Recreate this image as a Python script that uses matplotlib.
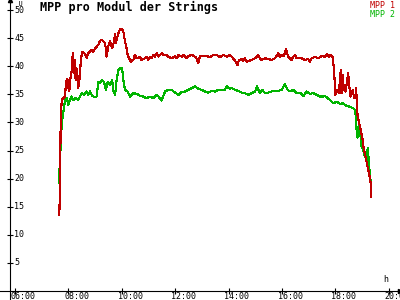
import matplotlib
matplotlib.use("Agg")
import matplotlib.pyplot as plt

plt.rcParams['font.family'] = ['DejaVu Sans Mono']

# MPP 1 (rot): Uhrzeit in Stunden, Spannung in V
mpp1_h = [7.66, 7.69, 7.71, 7.75, 7.81, 7.87, 7.90, 7.94, 7.97, 8.00, 8.03, 8.09, 8.12,
          8.16, 8.18, 8.21, 8.25, 8.27, 8.31, 8.35, 8.37, 8.41, 8.46, 8.50, 8.54, 8.60,
          8.68, 8.74, 8.81, 8.87, 8.93, 9.00, 9.06, 9.12, 9.18, 9.25, 9.31, 9.37, 9.41,
          9.43, 9.49, 9.56, 9.60, 9.64, 9.71, 9.75, 9.78, 9.82, 9.87, 9.93, 10.00, 10.06,
          10.12, 10.18, 10.22, 10.27, 10.34,
          10.37, 10.43, 10.49, 10.56, 10.68, 10.74, 10.87, 10.93, 10.99, 11.06, 11.12,
          11.18, 11.24, 11.31, 11.37, 11.43, 11.49, 11.55, 11.68, 11.74, 11.87, 11.99,
          12.06, 12.12, 12.24, 12.30, 12.43, 12.49, 12.62, 12.74, 12.80, 12.86, 12.93,
          13.18, 13.30, 13.43, 13.55, 13.68, 13.80, 13.93, 14.05,
          14.12, 14.24, 14.33, 14.39, 14.49, 14.55, 14.61, 14.68, 14.74, 14.86, 14.99,
          15.11, 15.17, 15.24, 15.36, 15.49, 15.61, 15.74, 15.86, 15.92, 15.99, 16.05,
          16.11, 16.15, 16.19, 16.24, 16.30, 16.36, 16.42, 16.49, 16.55, 16.74, 16.86,
          16.98, 17.05, 17.11, 17.24, 17.36, 17.49, 17.61, 17.68, 17.76, 17.83, 17.91,
          17.98, 18.00, 18.07, 18.13, 18.20, 18.23, 18.27, 18.32, 18.38, 18.48, 18.52,
          18.57, 18.65, 18.70, 18.76, 18.78, 18.80, 18.83, 18.88, 18.95, 19.01, 19.07,
          19.13, 19.19, 19.26, 19.32, 19.34]
mpp1_v = [13.5, 19.8, 30.4, 34.0, 34.3, 34.6, 36.4, 37.8, 36.1, 37.5, 35.5, 38.4, 39.0,
          42.0, 42.3, 38.7, 41.1, 37.5, 39.6, 37.8, 36.1, 37.5, 40.5, 42.3, 42.6, 42.3,
          41.5, 42.3, 42.6, 42.9, 42.6, 43.2, 43.5, 43.8, 44.5, 44.7, 44.4, 44.1, 42.9,
          41.7, 43.5, 44.4, 43.8, 43.2, 44.4, 45.8, 44.1, 45.0, 45.8, 46.6, 46.7, 46.1,
          44.4, 43.2, 42.0, 41.4, 40.8,
          41.0, 41.1, 42.0, 41.4, 41.7, 41.1, 41.4, 41.7, 41.1, 41.7, 41.4,
          42.0, 41.7, 42.3, 41.7, 42.0, 42.3, 42.0, 42.0, 41.7, 41.4, 41.8,
          41.4, 42.0, 41.7, 42.0, 41.4, 41.8, 42.0, 41.7, 41.4, 40.5, 41.8,
          41.8, 41.6, 42.0, 42.0, 41.6, 42.0, 41.7, 42.0,
          41.7, 41.0, 40.2, 41.1, 41.3, 41.0, 41.4, 40.8, 40.9, 41.1, 41.4,
          42.0, 41.4, 41.1, 41.4, 41.3, 41.1, 41.4, 42.3, 41.7, 42.0, 41.8,
          42.3, 43.0, 42.3, 41.7, 41.4, 41.1, 41.7, 42.0, 41.4, 41.4, 41.1,
          41.3, 40.8, 41.4, 41.7, 41.4, 41.8, 41.7, 42.2, 41.7, 42.0, 41.5,
          37.0, 34.9, 35.8, 35.2, 39.3, 35.2, 38.4, 35.8, 35.5, 38.8, 36.4,
          34.6, 35.8, 34.3, 34.6, 36.2, 33.4, 31.3, 30.1, 28.6, 27.2, 25.1,
          23.9, 22.4, 21.0, 19.2, 16.8]

# MPP 2 (gruen)
mpp2_h = [7.65, 7.66, 7.71, 7.75, 7.79, 7.84, 7.87, 7.94, 8.00, 8.06, 8.12, 8.18, 8.27,
          8.37, 8.43, 8.50, 8.58, 8.68, 8.74, 8.81, 8.90, 9.00, 9.06, 9.12, 9.18, 9.25,
          9.33, 9.41, 9.47, 9.56, 9.64, 9.69, 9.75, 9.79, 9.87, 9.93, 10.01, 10.07,
          10.12, 10.22,
          10.31, 10.43, 10.56, 10.68, 10.81, 10.93, 11.06, 11.18, 11.31, 11.43, 11.49,
          11.55, 11.62, 11.74, 11.87, 11.99, 12.12, 12.24, 12.37, 12.49, 12.62, 12.74,
          12.86, 12.99, 13.11, 13.24, 13.36, 13.49, 13.61, 13.74, 13.86, 13.93, 14.05,
          14.12, 14.24, 14.37, 14.49, 14.61, 14.74, 14.86, 14.99, 15.07, 15.17, 15.26,
          15.36, 15.49, 15.67, 15.86, 15.99, 16.11, 16.21, 16.30, 16.42, 16.55, 16.67,
          16.80, 16.92, 17.05, 17.18, 17.30, 17.43, 17.55, 17.61, 17.79, 17.92, 18.04,
          18.17, 18.29, 18.42, 18.55, 18.67, 18.73, 18.77, 18.80, 18.83, 18.89, 18.93,
          18.98, 19.04, 19.11, 19.17, 19.21, 19.26, 19.29, 19.33]
mpp2_v = [19.2, 21.0, 25.7, 29.9, 31.0, 32.8, 34.0, 34.3, 33.1, 34.0, 34.6, 34.0, 34.3,
          34.0, 34.6, 35.2, 34.9, 35.5, 34.9, 35.5, 34.7, 34.5, 34.6, 37.2, 37.0, 37.5,
          37.2, 35.8, 37.2, 36.7, 37.5, 35.5, 34.9, 37.0, 39.3, 39.6, 39.6, 37.2,
          35.8, 35.5,
          34.6, 35.2, 35.1, 34.7, 34.6, 34.3, 34.6, 34.3, 34.9, 34.3, 33.9,
          34.6, 35.5, 35.8, 35.8, 35.3, 34.9, 35.4, 35.5, 35.8, 36.1, 36.4,
          36.0, 35.8, 35.5, 35.3, 35.6, 35.5, 35.8, 35.8, 35.8, 36.4, 36.0,
          36.1, 35.8, 35.6, 35.3, 35.2, 34.9, 35.2, 35.5, 36.4, 35.2, 35.8,
          35.2, 35.3, 35.6, 35.6, 35.8, 36.8, 35.8, 35.5, 35.8, 35.2, 35.3,
          34.7, 35.5, 35.1, 35.2, 34.9, 34.6, 34.6, 34.7, 34.0, 33.4, 33.7,
          33.3, 33.4, 32.9, 32.8, 32.5, 32.2, 31.0, 28.1, 27.3, 29.5, 28.1,
          25.7, 25.1, 23.9, 23.3, 25.4, 22.7, 20.6, 19.2]

y_ticks = [5, 10, 15, 20, 25, 30, 35, 40, 45, 50]
x_ticks = [6, 8, 10, 12, 14, 16, 18, 20]
x_labels = ['06:00', '08:00', '10:00', '12:00', '14:00', '16:00', '18:00', '20:00']

fig = plt.figure(figsize=(4, 3), dpi=100)
ax = fig.add_axes([0, 0, 1, 1])
ax.set_xlim(5.438, 20.42)
ax.set_ylim(-1.6, 51.78)
x0 = 5.813  # Lage der y-Achse

ax.plot(mpp2_h, mpp2_v, color='#00b400', linewidth=0.8, antialiased=False)
ax.plot(mpp1_h, mpp1_v, color='#c00000', linewidth=0.8, antialiased=False)

# Achsen
for s in ['top', 'right']:
    ax.spines[s].set_visible(False)
ax.spines['left'].set_position(('data', x0))
ax.spines['bottom'].set_position(('data', 0))
ax.spines['left'].set_linewidth(0.8)
ax.spines['bottom'].set_linewidth(0.8)
ax.set_xticks(x_ticks)
ax.set_yticks(y_ticks)
ax.tick_params(direction='inout', length=5, width=0.8, labelleft=False, labelbottom=False)

for v in y_ticks:
    ax.annotate(str(v), (x0, v), xytext=(3, 0), textcoords='offset points',
                ha='left', va='center', fontsize=6)
for h, lab in zip(x_ticks, x_labels):
    ax.annotate(lab, (h, 0), xytext=(-3, -0.8), textcoords='offset points',
                ha='left', va='top', fontsize=6, annotation_clip=False)

ax.plot(x0, 1, '^', color='black', markersize=3, transform=ax.get_xaxis_transform(), clip_on=False)
ax.plot(1, 0, '>', color='black', markersize=3, transform=ax.get_yaxis_transform(), clip_on=False)
ax.text(x0, 0.998, '  U', transform=ax.get_xaxis_transform(), ha='left', va='top', fontsize=5)
ax.text(0.965, 1.2, 'h', transform=ax.get_yaxis_transform(), ha='center', va='bottom', fontsize=6)

fig.text(0.1, 0.975, 'MPP pro Modul der Strings', ha='left', va='center',
         fontsize=8.5, fontweight='bold')
fig.text(0.988, 0.998, 'MPP 1', color='#c00000', ha='right', va='top', fontsize=6)
fig.text(0.988, 0.966, 'MPP 2', color='#00b400', ha='right', va='top', fontsize=6)

fig.savefig('out.png', dpi=100, facecolor='white')
